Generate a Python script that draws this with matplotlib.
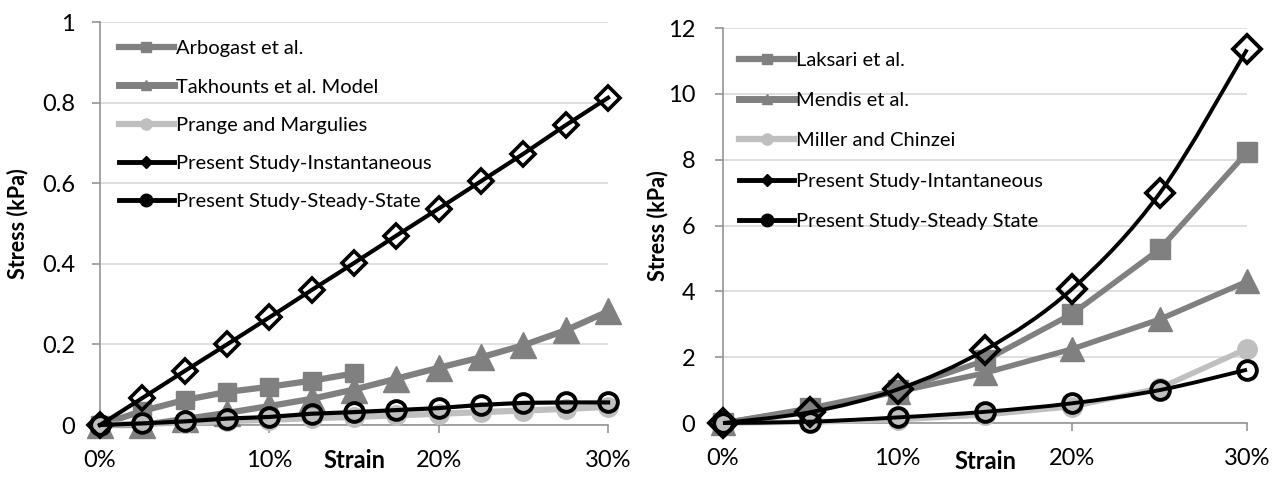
import numpy as np
import matplotlib
matplotlib.use("Agg")
import matplotlib.pyplot as plt
from matplotlib.lines import Line2D
from matplotlib.path import Path
from matplotlib.patches import PathPatch

plt.rcParams['font.family'] = ['Lato', 'DejaVu Sans']

# ---- left chart data (strain steps of 2.5%)
strain_a = [0, 0.025, 0.05, 0.075, 0.10, 0.125, 0.15, 0.175, 0.20, 0.225, 0.25, 0.275, 0.30]
arbogast_x = [0, 0.025, 0.05, 0.075, 0.10, 0.125, 0.15]
arbogast = [0, 0.035, 0.062, 0.082, 0.095, 0.11, 0.128]
takhounts = [0, 0, 0.015, 0.03, 0.047, 0.065, 0.088, 0.115, 0.142, 0.168, 0.198, 0.235, 0.282]
prange = [0, 0.003, 0.006, 0.01, 0.013, 0.017, 0.02, 0.024, 0.028, 0.032, 0.036, 0.04, 0.045]
inst_a = [0, 0.067, 0.134, 0.2, 0.267, 0.335, 0.402, 0.47, 0.537, 0.605, 0.673, 0.744, 0.812]
steady_a = [0, 0.004, 0.009, 0.016, 0.02, 0.028, 0.032, 0.037, 0.042, 0.05, 0.055, 0.056, 0.056]

# ---- right chart data (strain steps of 5%)
strain_b = [0, 0.05, 0.10, 0.15, 0.20, 0.25, 0.30]
laksari = [0, 0.45, 1.0, 1.9, 3.32, 5.28, 8.22]
mendis = [0, 0.42, 0.95, 1.52, 2.25, 3.15, 4.3]
miller = [0, 0.03, 0.1, 0.25, 0.5, 1.06, 2.26]
inst_b = [0, 0.33, 1.02, 2.22, 4.08, 6.98, 11.35]
steady_b = [0, 0.04, 0.17, 0.34, 0.6, 1.0, 1.62]

GRAY = '#808080'
LIGHT = '#BFBFBF'
AXIS = '#8C8C8C'
GRID = '#D9D9D9'


def smooth_path(x, y):
    # Excel style smoothed line: Catmull-Rom segments as cubic Beziers
    x = np.asarray(x, float)
    y = np.asarray(y, float)
    pts = np.column_stack([x, y])
    n = len(pts)
    verts = [pts[0]]
    codes = [Path.MOVETO]
    for i in range(n - 1):
        p0 = pts[max(i - 1, 0)]
        p1 = pts[i]
        p2 = pts[i + 1]
        p3 = pts[min(i + 2, n - 1)]
        c1 = p1 + (p2 - p0) / 6.0
        c2 = p2 - (p3 - p1) / 6.0
        verts += [c1, c2, p2]
        codes += [Path.CURVE4] * 3
    return Path(verts, codes)


def style_axes(ax, ymax, ystep, ypad):
    ax.set_xlim(0, 0.30)
    ax.set_ylim(0, ymax)
    ax.set_xticks([0, 0.1, 0.2, 0.3])
    ax.set_xticklabels(['0%', '10%', '20%', '30%'])
    yt = np.arange(0, ymax + ystep / 2, ystep)
    ax.set_yticks(yt)
    ax.set_yticklabels(['%g' % round(v, 1) for v in yt])
    for s in ['top', 'right']:
        ax.spines[s].set_visible(False)
    for s in ['left', 'bottom']:
        ax.spines[s].set_color(AXIS)
        ax.spines[s].set_linewidth(1.1)
    ax.tick_params(axis='both', direction='out', length=6, width=1.1,
                   color=AXIS, labelsize=17)
    ax.tick_params(axis='y', pad=ypad)
    ax.tick_params(axis='x', pad=12)
    ax.grid(axis='y', color=GRID, linewidth=1.2)
    ax.set_axisbelow(True)


def legend_handles():
    return [
        Line2D([], [], color=GRAY, lw=4.5, marker='s', ms=7, mfc=GRAY, mec=GRAY),
        Line2D([], [], color=GRAY, lw=5, marker='^', ms=7, mfc=GRAY, mec=GRAY),
        Line2D([], [], color=LIGHT, lw=4.5, marker='o', ms=8, mfc=LIGHT, mec=LIGHT),
        Line2D([], [], color='black', lw=3.5, marker='D', ms=6, mfc='black', mec='black'),
        Line2D([], [], color='black', lw=3.5, marker='o', ms=9, mfc='black', mec='black'),
    ]


fig = plt.figure(figsize=(12.79, 4.79), dpi=100)

# ================= left chart =================
ax1 = fig.add_axes([0.0782, 0.1127, 0.3972, 0.8413])
style_axes(ax1, 1.0, 0.2, 12)

ax1.plot(arbogast_x, arbogast, color=GRAY, lw=4.5, marker='s', ms=13,
         mec=GRAY, mfc=GRAY, clip_on=False, zorder=3)
ax1.plot(strain_a, takhounts, color=GRAY, lw=4.5, marker='^', ms=19,
         mec=GRAY, mfc=GRAY, clip_on=False, zorder=3)
ax1.plot(strain_a, prange, color=LIGHT, lw=4.5, marker='o', ms=14,
         mec=LIGHT, mfc=LIGHT, clip_on=False, zorder=3)
ax1.plot(strain_a, inst_a, color='black', lw=3, marker='D', ms=12.5,
         mec='black', mfc='none', mew=2.6, clip_on=False, zorder=4)
ax1.plot(strain_a, steady_a, color='black', lw=3, marker='o', ms=13.5,
         mec='black', mfc='none', mew=2.8, clip_on=False, zorder=5)

ax1.set_ylabel('Stress (kPa)', fontsize=15.5, fontweight='bold')
ax1.yaxis.set_label_coords(-0.142, 0.5)
ax1.set_xlabel('Strain', fontsize=17, fontweight='bold', va='center')
ax1.xaxis.set_label_coords(0.5, -0.089)

names_a = ['Arbogast et al.', 'Takhounts et al. Model', 'Prange and Margulies',
           'Present Study-Instantaneous', 'Present Study-Steady-State']
ax1.legend(legend_handles(), names_a, loc='upper left',
           bbox_to_anchor=(0.022, 0.975), frameon=False, fontsize=14.5,
           handlelength=2.7, handletextpad=0.1, labelspacing=1.05,
           borderaxespad=0)

# ================= right chart =================
ax2 = fig.add_axes([0.5653, 0.1169, 0.4097, 0.8246])
style_axes(ax2, 12, 2, 14)

ax2.plot(strain_b, laksari, color=GRAY, lw=4, marker='s', ms=14,
         mec=GRAY, mfc=GRAY, clip_on=False, zorder=3)
ax2.plot(strain_b, mendis, color=GRAY, lw=4, marker='^', ms=17,
         mec=GRAY, mfc=GRAY, clip_on=False, zorder=3)
ax2.plot(strain_b, miller, color=LIGHT, lw=4, marker='o', ms=14,
         mec=LIGHT, mfc=LIGHT, clip_on=False, zorder=3)

for yv, mk, ms, zo in [(inst_b, 'D', 14, 4), (steady_b, 'o', 13.5, 5)]:
    ax2.add_patch(PathPatch(smooth_path(strain_b, yv), fc='none', ec='black',
                            lw=2.8, clip_on=False, zorder=zo))
    ax2.plot(strain_b, yv, ls='none', marker=mk, ms=ms, mec='black',
             mfc='none', mew=2.8, clip_on=False, zorder=zo)

ax2.set_ylabel('Stress (kPa)', fontsize=15.5, fontweight='bold')
ax2.yaxis.set_label_coords(-0.105, 0.5)
ax2.set_xlabel('Strain', fontsize=17, fontweight='bold', va='center')
ax2.xaxis.set_label_coords(0.5, -0.097)

names_b = ['Laksari et al.', 'Mendis et al.', 'Miller and Chinzei',
           'Present Study-Intantaneous', 'Present Study-Steady State']
ax2.legend(legend_handles(), names_b, loc='upper left',
           bbox_to_anchor=(0.016, 0.96), frameon=False, fontsize=14.5,
           handlelength=2.7, handletextpad=0.1, labelspacing=1.15,
           borderaxespad=0)

fig.savefig('out.png', dpi=100)
